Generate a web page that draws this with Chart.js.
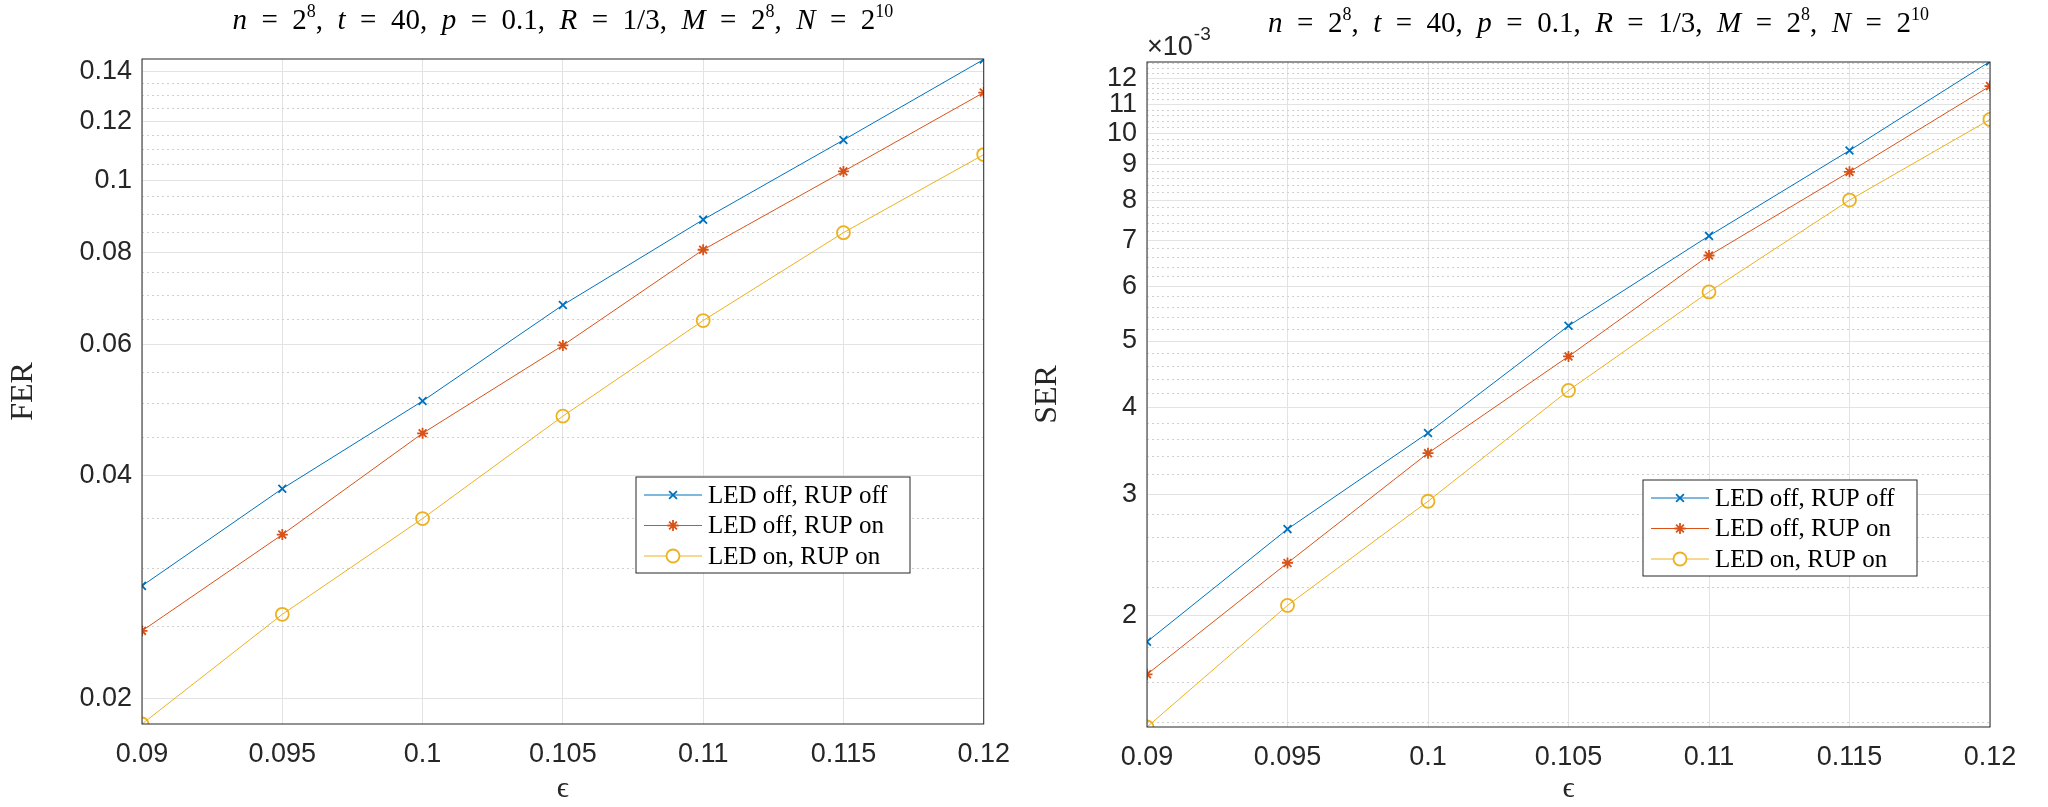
<!DOCTYPE html>
<html>
<head>
<meta charset="utf-8">
<script src="https://cdn.jsdelivr.net/npm/chart.js@4"></script>
<style>
  body { margin: 0; background: #fff; }
  .box { position: absolute; top: 0; width: 1024px; height: 807px; }
</style>
</head>
<body>
<div class="box" style="left:0"><canvas id="ferChart"></canvas></div>
<div class="box" style="left:1024px"><canvas id="serChart"></canvas></div>
<script>
// dados
const epsilons = [0.09, 0.095, 0.1, 0.105, 0.11, 0.115, 0.12];
const seriesNames = ["LED off, RUP off", "LED off, RUP on", "LED on, RUP on"];

const ferOffOff = [0.0284, 0.0384, 0.0504, 0.0679, 0.0885, 0.1133, 0.1455];
const ferOffOn = [0.0247, 0.0333, 0.0456, 0.0599, 0.0806, 0.1028, 0.1313];
const ferOnOn = [0.0185, 0.0260, 0.0350, 0.0481, 0.0647, 0.0850, 0.1083];

// SER em unidades de 1e-3
const serOffOff = [1.834, 2.67, 3.68, 5.26, 7.1, 9.44, 12.7];
const serOffOn = [1.645, 2.385, 3.44, 4.75, 6.65, 8.79, 11.7];
const serOnOn = [1.38, 2.07, 2.93, 4.24, 5.89, 8.0, 10.47];

const ferMajorTicks = [0.02, 0.04, 0.06, 0.08, 0.1, 0.12, 0.14];
const ferMinorTicks = [0.025, 0.03, 0.035, 0.045, 0.05, 0.055, 0.065, 0.07, 0.075,
  0.085, 0.09, 0.095, 0.105, 0.11, 0.115, 0.125, 0.13, 0.135];
const serMajorTicks = [2, 3, 4, 5, 6, 7, 8, 9, 10, 11, 12];
const serMinorTicks = [1.4, 1.6, 1.8, 2.2, 2.4, 2.6, 2.8, 3.2, 3.4, 3.6, 3.8, 4.2, 4.4, 4.6, 4.8,
  5.2, 5.4, 5.6, 5.8, 6.2, 6.4, 6.6, 6.8, 7.2, 7.4, 7.6, 7.8, 8.2, 8.4, 8.6, 8.8,
  9.2, 9.4, 9.6, 9.8, 10.2, 10.4, 10.6, 10.8, 11.2, 11.4, 11.6, 11.8, 12.2, 12.4, 12.6];

const colors = ["#0072BD", "#D95319", "#EDB120"];
const markers = ["crossRot", "star", "circle"];
const tickFont = { family: "Liberation Sans", size: 27 };
const serif = "Liberation Serif";

function makeDatasets(values) {
  return values.map((v, i) => ({
    label: seriesNames[i],
    data: v,
    borderColor: colors[i],
    backgroundColor: "rgba(0,0,0,0)",
    borderWidth: 1,
    pointStyle: markers[i],
    pointRadius: markers[i] === "circle" ? 6.5 : 5.5,
    pointBorderWidth: 1.8,
    pointBorderColor: colors[i],
  }));
}

// título com partes em itálico
const titleParts = [
  ["n", "i"], ["  =  2", ""], ["8", "s"], [",  ", ""], ["t", "i"], ["  =  40,  ", ""],
  ["p", "i"], ["  =  0.1,  ", ""], ["R", "i"], ["  =  1/3,  ", ""], ["M", "i"], ["  =  2", ""],
  ["8", "s"], [",  ", ""], ["N", "i"], ["  =  2", ""], ["10", "s"],
];

function drawRich(ctx, parts, xCenter, y, size) {
  const fontOf = (s) => s === "i" ? `italic ${size}px ${serif}` : s === "s" ? `${size * 0.62}px ${serif}` : `${size}px ${serif}`;
  let total = 0;
  parts.forEach(([t, s]) => { ctx.font = fontOf(s); total += ctx.measureText(t).width; });
  let x = xCenter - total / 2;
  ctx.textBaseline = "alphabetic";
  ctx.textAlign = "left";
  ctx.fillStyle = "#000";
  parts.forEach(([t, s]) => {
    ctx.font = fontOf(s);
    ctx.fillText(t, x, s === "s" ? y - size * 0.42 : y);
    x += ctx.measureText(t).width;
  });
}

function decorPlugin(opts) {
  return {
    id: "decor",
    afterDraw(chart) {
      const ctx = chart.ctx;
      const a = chart.chartArea;
      ctx.save();
      ctx.strokeStyle = "#262626";
      ctx.lineWidth = 1;
      ctx.strokeRect(a.left, a.top, a.right - a.left, a.bottom - a.top);
      drawRich(ctx, titleParts, (a.left + a.right) / 2 + opts.titleShift, a.top - 30, 29);
      if (opts.exponent) {
        ctx.font = `27px Liberation Sans`;
        ctx.fillStyle = "#262626";
        ctx.fillText("×10", a.left, a.top - 7);
        const w = ctx.measureText("×10").width;
        ctx.font = `19px Liberation Sans`;
        ctx.fillText("-3", a.left + w + 1, a.top - 22);
      }
      // legenda
      const lg = opts.legend;
      ctx.fillStyle = "#fff";
      ctx.fillRect(lg.x, lg.y, lg.w, lg.h);
      ctx.strokeStyle = "#262626";
      ctx.strokeRect(lg.x, lg.y, lg.w, lg.h);
      chart.data.datasets.forEach((ds, i) => {
        const yy = lg.y + 18 + i * 30.5;
        ctx.strokeStyle = ds.borderColor;
        ctx.lineWidth = 1;
        ctx.beginPath();
        ctx.moveTo(lg.x + 8, yy);
        ctx.lineTo(lg.x + 66, yy);
        ctx.stroke();
        ctx.lineWidth = 1.8;
        ctx.fillStyle = "#fff";
        Chart.helpers.drawPoint(ctx, { pointStyle: ds.pointStyle, radius: ds.pointRadius, rotation: 0, borderWidth: 1.8 }, lg.x + 37, yy);
        ctx.fillStyle = "#000";
        ctx.font = `25px ${serif}`;
        ctx.textBaseline = "middle";
        ctx.fillText(ds.label, lg.x + 72, yy + 1);
      });
      ctx.restore();
    },
  };
}

function makeChart(id, values, cfg) {
  return new Chart(document.getElementById(id), {
    type: "line",
    data: { labels: epsilons, datasets: makeDatasets(values) },
    plugins: [decorPlugin(cfg)],
    options: {
      responsive: true,
      maintainAspectRatio: false,
      animation: false,
      layout: { padding: { top: cfg.top, right: cfg.right, left: 0, bottom: 0 } },
      plugins: { legend: { display: false }, tooltip: { enabled: false } },
      scales: {
        x: {
          type: "linear",
          min: 0.09, max: 0.12,
          afterBuildTicks: (s) => { s.ticks = epsilons.map((v) => ({ value: v })); },
          afterFit: (s) => { s.height = cfg.bottom; },
          ticks: { font: tickFont, color: "#262626", padding: 14, callback: (v) => String(+v.toFixed(3)) },
          grid: { color: "#e3e3e3", drawTicks: false },
          border: { display: false },
          title: { display: true, text: "ϵ", font: { family: serif, size: 30 }, color: "#262626", padding: 0 },
        },
        y: {
          type: "logarithmic",
          min: cfg.min, max: cfg.max,
          afterBuildTicks: (s) => { s.ticks = cfg.major.map((v) => ({ value: v })); },
          afterFit: (s) => { s.width = cfg.leftW; },
          ticks: { font: tickFont, color: "#262626", padding: 10, callback: (v) => String(v) },
          grid: { color: "#e3e3e3", drawTicks: false },
          border: { display: false },
          title: { display: true, text: cfg.yTitle, font: { family: serif, size: 32 }, color: "#262626", padding: 4 },
        },
        yMinor: {
          type: "logarithmic",
          position: "left",
          display: true,
          min: cfg.min, max: cfg.max,
          afterBuildTicks: (s) => { s.ticks = cfg.minor.map((v) => ({ value: v })); },
          afterFit: (s) => { s.width = 0; },
          ticks: { display: false },
          grid: { color: "#d0d0d0", drawTicks: false },
          border: { display: false, dash: [2, 3] },
        },
      },
    },
  });
}

makeChart("ferChart", [ferOffOff, ferOffOn, ferOnOn], {
  min: 0.0185, max: 0.1457, major: ferMajorTicks, minor: ferMinorTicks,
  yTitle: "FER", leftW: 142, top: 59, right: 39, bottom: 83, titleShift: 0,
  legend: { x: 636, y: 477, w: 274, h: 96 },
});

makeChart("serChart", [serOffOff, serOffOn, serOnOn], {
  min: 1.38, max: 12.68, major: serMajorTicks, minor: serMinorTicks,
  yTitle: "SER", leftW: 123, top: 62, right: 58, bottom: 80, titleShift: 30, exponent: true,
  legend: { x: 619, y: 480, w: 274, h: 96 },
});
</script>
</body>
</html>
